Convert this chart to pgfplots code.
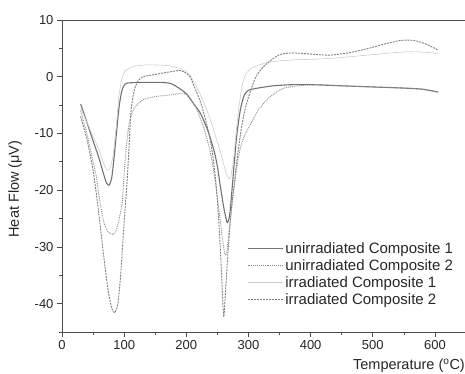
\documentclass[border=0pt]{standalone}
\usepackage{fontspec}
\setmainfont{Liberation Sans}
\usepackage{pgfplots}
\pgfplotsset{compat=1.18}
\begin{document}
\begin{tikzpicture}
\useasboundingbox (0,0) rectangle (465pt,373pt);
\begin{axis}[
  at={(62pt,41pt)}, anchor=south west,
  scale only axis, width=404pt, height=312pt,
  xmin=0, xmax=650, ymin=-45, ymax=10,
  xtick={0,100,...,600}, ytick={-40,-30,...,10},
  minor xtick={50,150,...,650}, minor ytick={-45,-35,...,5},
  tick align=outside, xtick pos=bottom, ytick pos=left,
  major tick length=5pt, minor tick length=3pt,
  axis line style={black!70, line width=0.9pt},
  every tick/.style={black!70, line width=0.7pt},
  tick label style={font=\fontsize{13}{15}\selectfont, text=black!85},
  /pgf/number format/assume math mode=true,
  clip=true,
  legend style={draw=none, fill=none, at={(0.45,0.302)}, anchor=north west,
    font=\fontsize{15}{17}\selectfont, text=black!85, row sep=0pt,
    nodes={inner sep=2.3pt}},
  legend cell align=left,
  legend image code/.code={\draw[#1] (0pt,0pt) -- (35pt,0pt);},
]
\addplot[black!55, line width=1.1pt, smooth, tension=0.4] coordinates {
(30,-4.8) (40,-8) (50,-11.3) (60,-14.5) (67,-17.2) (72,-18.8) (76,-19.1) (80,-17.8)
(84,-14) (88,-9.5) (92,-5.2) (96,-2.6) (100,-1.5) (106,-1.1) (130,-1.0) (160,-1.0)
(175,-1.2) (188,-2.0) (200,-3.0) (212,-4.8) (223,-6.5) (235,-9.6) (245,-13.2)
(250,-15.8) (255,-19.5) (261,-23.5) (266,-25.7) (270,-24.2) (275,-18) (281,-10.5)
(287,-5.8) (293,-3.3) (300,-2.4) (315,-2.0) (340,-1.6) (370,-1.4) (400,-1.4)
(450,-1.6) (500,-1.8) (550,-2.0) (580,-2.2) (605,-2.7)};
\addlegendentry{unirradiated Composite 1}
\addplot[black!45, line width=0.9pt, densely dotted, smooth, tension=0.4] coordinates {
(30,-6) (40,-10) (48,-14) (55,-17.5) (61,-22) (67,-25.5) (74,-27.3) (82,-27.8)
(88,-26.8) (93,-24.5) (97,-22) (100,-17) (103,-13) (107,-9) (112,-6.5) (120,-5)
(131,-4) (150,-3.5) (175,-3.2) (195,-2.9) (205,-3.6) (212,-4.8) (217,-5.8) (228,-9)
(238,-13) (246,-18) (252,-23) (257,-27.5) (262,-31.3) (265,-31) (269,-27) (274,-22)
(280,-17) (286,-13) (293,-10.5) (303,-8.5) (315,-6) (330,-4) (345,-2.7) (357,-2)
(380,-1.6) (411,-1.4) (450,-1.6) (500,-1.8) (550,-2.0) (580,-2.2) (605,-2.7)};
\addlegendentry{unirradiated Composite 2}
\addplot[black!20, line width=0.6pt, smooth, tension=0.4] coordinates {
(30,-5.5) (40,-8) (50,-10.5) (60,-13) (67,-15.3) (72,-16.4) (77,-16.2) (82,-14)
(87,-9) (91,-4) (95,-1) (100,0.8) (108,1.5) (118,1.9) (140,2.1) (165,2.0) (180,1.8)
(192,1.3) (201,0.8) (210,-0.5) (220,-2.5) (230,-5) (240,-8) (250,-11.5) (258,-14.5)
(264,-17) (270,-18) (275,-15.5) (280,-10) (285,-5) (290,-1.5) (296,0.5) (305,1.5)
(315,2.0) (330,2.5) (350,2.8) (380,3.0) (410,3.1) (440,3.3) (470,3.6) (500,3.9)
(530,4.2) (560,4.4) (585,4.3) (605,4.1)};
\addlegendentry{irradiated Composite 1}
\addplot[black!50, line width=0.9pt, dash pattern=on 2pt off 1pt, smooth, tension=0.4] coordinates {
(30,-7) (40,-11) (50,-16.5) (58,-23) (66,-30.6) (74,-37.5) (80,-40.8) (85,-41.6)
(90,-40) (94,-35.5) (97,-30.6) (101,-24) (105,-18) (108,-12) (111,-6) (116,-2.5)
(122,-0.8) (130,0) (150,0.4) (170,0.8) (190,1.1) (200,0.6) (206,0) (213,-1.8)
(223,-4.5) (232,-8) (240,-12) (247,-18) (252,-25) (256,-33) (260,-42.3) (263,-38)
(267,-31) (272,-24) (279,-17) (286,-11) (292,-7) (298,-4.3) (305,-2) (312,0)
(322,1.5) (335,2.8) (350,3.9) (370,4.2) (400,4.0) (430,3.8) (460,4.2) (490,4.9)
(520,5.8) (545,6.4) (565,6.4) (585,5.8) (605,4.7)};
\addlegendentry{irradiated Composite 2}
\end{axis}
\node[anchor=east, font=\fontsize{14.5}{16}\selectfont, text=black!85, inner sep=0pt] at (465pt,7pt) {Temperature (\textsuperscript{o}C)};
\node[rotate=90, font=\fontsize{14.5}{16}\selectfont, text=black!85, inner sep=0pt] at (15pt,184pt) {Heat Flow (μV)};
\end{tikzpicture}
\end{document}
